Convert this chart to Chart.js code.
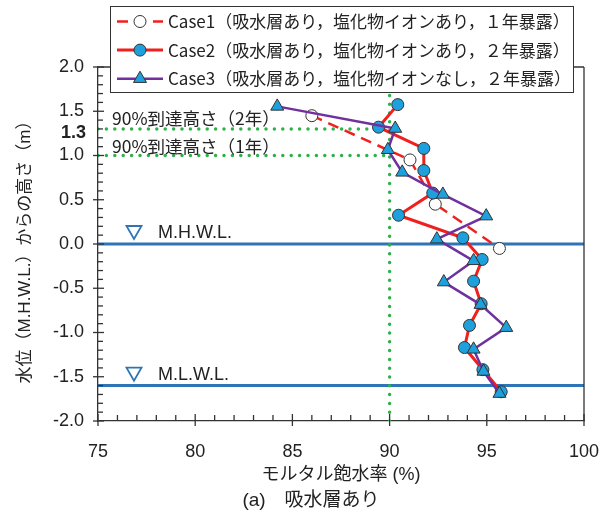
<!DOCTYPE html>
<html lang="ja">
<head>
<meta charset="utf-8">
<title>モルタル飽水率</title>
<script src="https://cdn.jsdelivr.net/npm/chart.js@4.4.1/dist/chart.umd.min.js"></script>
<style>
  html, body { margin: 0; padding: 0; background: #fff; }
  #wrap { width: 612px; height: 513px; }
</style>
</head>
<body>
<div id="wrap"><canvas id="chart" width="612" height="513"></canvas></div>
<script>
// 高さ (m, M.H.W.L.基準) とモルタル飽水率 (%)
const case1Height = [1.45, 0.95, 0.45, -0.05];
const case1Rate   = [86.0, 91.05, 92.35, 95.65];

const case2Height = [1.575, 1.32, 1.08, 0.83, 0.575, 0.325, 0.07, -0.175, -0.42, -0.675, -0.92, -1.17, -1.42, -1.67];
const case2Rate   = [90.42, 89.43, 91.76, 91.76, 92.22, 90.46, 93.77, 94.76, 94.32, 94.71, 94.11, 93.85, 94.80, 95.74];

const case3Height = [1.555, 1.305, 1.065, 0.81, 0.56, 0.315, 0.055, -0.19, -0.43, -0.685, -0.945, -1.19, -1.44, -1.69];
const case3Rate   = [84.22, 90.29, 89.91, 90.65, 92.74, 94.97, 92.43, 94.32, 92.79, 94.68, 96.0, 94.32, 94.83, 95.65];

const seriesLabels = [
  'Case1（吸水層あり，塩化物イオンあり，１年暴露）',
  'Case2（吸水層あり，塩化物イオンあり，２年暴露）',
  'Case3（吸水層あり，塩化物イオンなし，２年暴露）'
];

const xTicks = [75, 80, 85, 90, 95, 100];
const yTicks = [-2.0, -1.5, -1.0, -0.5, 0.0, 0.5, 1.0, 1.5, 2.0];

const waterLevels = [0, -1.6];          // M.H.W.L., M.L.W.L.
const waterLabels = ['M.H.W.L.', 'M.L.W.L.'];
const targetRate = 90;                  // 90%
const reachHeights = [1.3, 1.0];        // 2年, 1年
const reachLabels = ['90%到達高さ（2年）', '90%到達高さ（1年）'];

const xTitle = 'モルタル飽水率 (%)';
const yTitle = '水位（M.H.W.L.）からの高さ（m）';
const caption = '(a)　吸水層あり';

const RED = '#f0201e', PURPLE = '#7030a0', BLUE = '#2e75b6', GREEN = '#2fb14a', CYAN = '#1ea0dc';
const xMin = xTicks[0], xMax = xTicks[xTicks.length - 1];
const yMin = yTicks[0], yMax = yTicks[yTicks.length - 1];
const latinJp = "'Liberation Sans', 'Noto Sans CJK JP', sans-serif";

const pts = (xs, ys) => xs.map((x, i) => ({ x: x, y: ys[i] }));

let datasets = [
  {
    label: seriesLabels[0], data: pts(case1Rate, case1Height), showLine: true,
    borderColor: RED, borderWidth: 2.5, borderDash: [11, 7],
    pointStyle: 'circle', pointRadius: 6, pointBackgroundColor: '#fff',
    pointBorderColor: '#333', pointBorderWidth: 1, order: 3
  },
  {
    label: seriesLabels[1], data: pts(case2Rate, case2Height), showLine: true,
    borderColor: RED, borderWidth: 3,
    pointStyle: 'circle', pointRadius: 6, pointBackgroundColor: CYAN,
    pointBorderColor: '#333', pointBorderWidth: 1, order: 2
  },
  {
    label: seriesLabels[2], data: pts(case3Rate, case3Height), showLine: true,
    borderColor: PURPLE, borderWidth: 2.5,
    pointStyle: 'triangle', pointRadius: 7.5, pointBackgroundColor: CYAN,
    pointBorderColor: '#333', pointBorderWidth: 1, order: 1
  }
];
// 水位線
waterLevels.forEach(h => datasets.push({
  data: [{ x: xMin, y: h }, { x: xMax, y: h }], showLine: true,
  borderColor: BLUE, borderWidth: 3, pointRadius: 0, order: 20
}));
// 90% 線 (点線)
datasets.push({
  data: [{ x: targetRate, y: yMin }, { x: targetRate, y: yMax }], showLine: true,
  borderColor: GREEN, borderWidth: 3.5, borderDash: [0, 8.8], borderCapStyle: 'round',
  pointRadius: 0, order: 15
});
reachHeights.forEach(h => datasets.push({
  data: [{ x: xMin, y: h }, { x: targetRate, y: h }], showLine: true,
  borderColor: GREEN, borderWidth: 3.5, borderDash: [0, 8.4], borderCapStyle: 'round',
  pointRadius: 0, order: 15
}));

function line(ctx, x1, y1, x2, y2) {
  ctx.beginPath(); ctx.moveTo(x1, y1); ctx.lineTo(x2, y2); ctx.stroke();
}

const decorations = {
  id: 'decorations',
  afterDraw(chart) {
    const ctx = chart.ctx, ca = chart.chartArea;
    const ax = chart.scales.x, ay = chart.scales.y;
    ctx.save();
    ctx.setLineDash([]);
    ctx.strokeStyle = '#333';
    ctx.lineWidth = 1.3;
    // 枠
    line(ctx, ca.right, ca.top, ca.right, ca.bottom);
    line(ctx, ca.left, ca.top, ca.right, ca.top);
    // 目盛
    for (let v = xMin; v <= xMax; v++) {
      const px = ax.getPixelForValue(v);
      const major = v % 5 === 0;
      line(ctx, px, ca.bottom - (major ? 7 : 6), px, ca.bottom + (major ? 5 : 0));
    }
    for (let i = yMin * 10; i <= yMax * 10; i++) {
      const py = ay.getPixelForValue(i / 10);
      const major = i % 5 === 0;
      line(ctx, ca.left - (major ? 5 : 0), py, ca.left + (major ? 6 : 5), py);
    }

    // 注記
    ctx.fillStyle = '#222';
    ctx.textBaseline = 'middle';
    ctx.font = "17.5px 'Noto Sans CJK JP', sans-serif";
    ctx.textAlign = 'left';
    ctx.fillText(reachLabels[0], 112, ay.getPixelForValue(reachHeights[0]) - 11);
    ctx.fillText(reachLabels[1], 112, ay.getPixelForValue(reachHeights[1]) - 9);
    ctx.font = "bold 18px 'Liberation Sans', sans-serif";
    ctx.textAlign = 'right';
    ctx.fillText(String(reachHeights[0]), 86, ay.getPixelForValue(reachHeights[0]) + 4);

    // 水位記号
    waterLevels.forEach((h, i) => {
      const py = ay.getPixelForValue(h);
      const cx = 134, cy = py - 12;
      ctx.strokeStyle = BLUE; ctx.lineWidth = 1.8;
      ctx.beginPath();
      ctx.moveTo(cx - 7.5, cy - 6); ctx.lineTo(cx + 7.5, cy - 6); ctx.lineTo(cx, cy + 7);
      ctx.closePath(); ctx.stroke();
      ctx.fillStyle = '#222';
      ctx.font = "18px 'Liberation Sans', sans-serif";
      ctx.textAlign = 'left';
      ctx.fillText(waterLabels[i], 158, py - 11);
    });

    // 軸タイトル
    ctx.fillStyle = '#222';
    ctx.textAlign = 'center';
    ctx.font = "18px " + latinJp;
    ctx.fillText(xTitle, (ca.left + ca.right) / 2, 475);
    ctx.font = "19px " + latinJp;
    ctx.fillText(caption, 311, 501);
    ctx.save();
    ctx.translate(25, 248);
    ctx.rotate(-Math.PI / 2);
    ctx.font = "17px " + latinJp;
    ctx.fillText(yTitle, 0, 0);
    ctx.restore();

    // 凡例
    const lx = 110, ly = 6, lw = 463, lh = 86;
    ctx.fillStyle = '#fff';
    ctx.fillRect(lx, ly, lw, lh);
    ctx.strokeStyle = '#333'; ctx.lineWidth = 1;
    ctx.strokeRect(lx + 0.5, ly + 0.5, lw, lh);
    [0, 1, 2].forEach(i => {
      const ds = chart.data.datasets[i];
      const ry = 21.5 + i * 28.6;
      ctx.strokeStyle = ds.borderColor;
      ctx.lineWidth = ds.borderWidth;
      ctx.setLineDash(ds.borderDash || []);
      line(ctx, 117, ry, 163, ry);
      ctx.setLineDash([]);
      ctx.fillStyle = ds.pointBackgroundColor;
      ctx.strokeStyle = ds.pointBorderColor;
      ctx.lineWidth = ds.pointBorderWidth;
      Chart.helpers.drawPoint(ctx, {
        pointStyle: ds.pointStyle, radius: ds.pointRadius, rotation: 0, borderWidth: ds.pointBorderWidth
      }, 140, ry);
      ctx.fillStyle = '#222';
      ctx.textAlign = 'left';
      ctx.textBaseline = 'middle';
      ctx.font = "17px 'Liberation Sans Narrow', 'Noto Sans CJK JP', sans-serif";
      ctx.fillText(ds.label, 168, ry);
    });
    ctx.restore();
  }
};

new Chart(document.getElementById('chart'), {
  type: 'scatter',
  data: { datasets: datasets },
  options: {
    responsive: false,
    animation: false,
    layout: { padding: { left: 0, right: 28, top: 67, bottom: 0 } },
    elements: { line: { tension: 0 } },
    plugins: { legend: { display: false }, tooltip: { enabled: false } },
    scales: {
      x: {
        type: 'linear', min: xMin, max: xMax,
        afterFit: s => { s.height = 92; s.paddingLeft = 0; s.paddingRight = 0; },
        afterBuildTicks: s => { s.ticks = xTicks.map(v => ({ value: v })); },
        grid: { display: false, drawTicks: false },
        border: { display: true, color: '#333', width: 1.3 },
        ticks: {
          color: '#222', padding: 20, maxRotation: 0,
          font: { family: 'Liberation Sans', size: 18 },
          callback: v => String(v)
        }
      },
      y: {
        type: 'linear', min: yMin, max: yMax,
        afterFit: s => { s.width = 98; s.paddingTop = 0; s.paddingBottom = 0; },
        afterBuildTicks: s => { s.ticks = yTicks.map(v => ({ value: v })); },
        grid: { display: false, drawTicks: false },
        border: { display: true, color: '#333', width: 1.3 },
        ticks: {
          color: '#222', padding: 14,
          font: { family: 'Liberation Sans', size: 18 },
          callback: v => Number(v).toFixed(1)
        }
      }
    }
  },
  plugins: [decorations]
});
</script>
</body>
</html>
